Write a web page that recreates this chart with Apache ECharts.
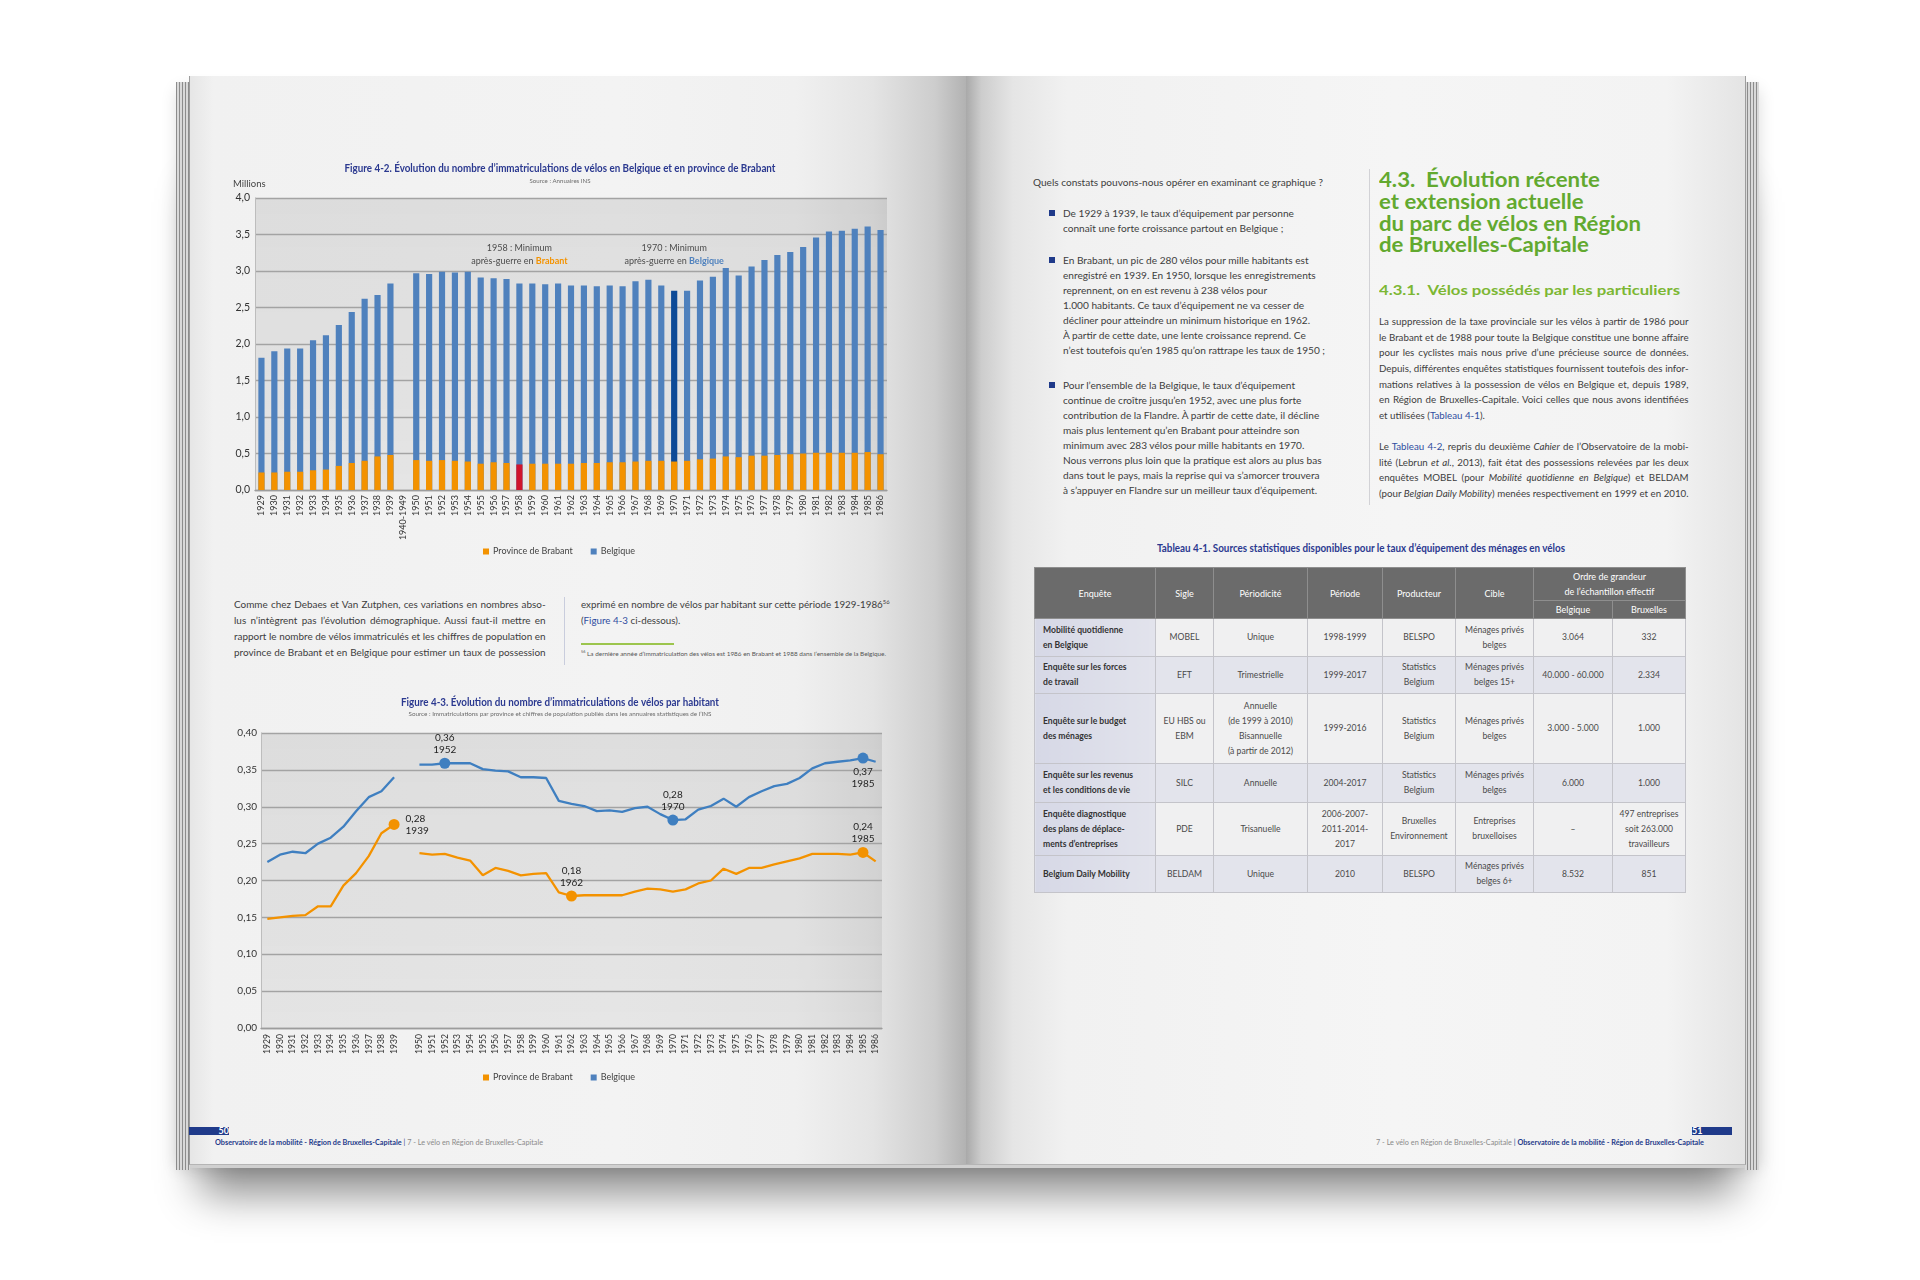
<!DOCTYPE html>
<html lang="fr">
<head>
<meta charset="utf-8">
<title>Évolution du parc de vélos</title>
<script src="https://cdn.jsdelivr.net/npm/echarts@6/dist/echarts.min.js"></script>
<style>
html,body{margin:0;padding:0;}
body{width:1920px;height:1280px;background:#ffffff;position:relative;overflow:hidden;font-family:Lato,"Open Sans",sans-serif;}
#page{position:absolute;left:0;top:0;width:1920px;height:1280px;}
.ln{position:absolute;white-space:nowrap;}
.ln sup{font-size:0.6em;line-height:0;vertical-align:super;}
.blue{color:#2f4da0;}
#chart{position:absolute;left:0;top:0;width:1920px;height:1280px;}
table.t{position:absolute;left:1034px;top:567px;width:651px;border-collapse:collapse;table-layout:fixed;font-family:Lato,"Open Sans",sans-serif;font-size:8.6px;color:#4a4a4a;}
table.t td, table.t th{padding:0;text-align:center;vertical-align:middle;line-height:15px;border:1px solid #c4c4ca;}
table.t th{background:#6b6b6b;color:#ffffff;font-weight:400;font-size:9px;border-color:#8e8e8e;}
table.t td.c1{text-align:left;padding-left:8px;font-weight:700;color:#333;background:linear-gradient(to right,#d6d8e6,#e3e4ed);}
table.t tr.odd td{background:#f0f0f1;}
table.t tr.even td{background:#e3e4ec;}
table.t tr.odd td.c1, table.t tr.even td.c1{background:linear-gradient(to right,#d6d8e6,#e2e3ec);}
</style>
</head>
<body>
<div id="page"></div>
<div id="chart"></div>
<script>
// ---------------- DATA ----------------
const years1 = ['1929','1930','1931','1932','1933','1934','1935','1936','1937','1938','1939','1940-1949',
  '1950','1951','1952','1953','1954','1955','1956','1957','1958','1959','1960','1961','1962','1963','1964','1965','1966','1967','1968','1969',
  '1970','1971','1972','1973','1974','1975','1976','1977','1978','1979','1980','1981','1982','1983','1984','1985','1986'];
const belgiqueMillions = [1.81,1.90,1.94,1.94,2.05,2.12,2.26,2.44,2.62,2.67,2.83,null,
  2.97,2.96,2.99,2.98,2.99,2.91,2.90,2.89,2.83,2.83,2.82,2.83,2.80,2.80,2.79,2.80,2.79,2.86,2.88,2.80,
  2.73,2.73,2.87,2.92,3.04,2.94,3.06,3.15,3.22,3.26,3.33,3.46,3.54,3.55,3.58,3.61,3.56];
const brabantMillions = [0.24,0.24,0.25,0.25,0.27,0.28,0.33,0.37,0.40,0.46,0.48,null,
  0.41,0.40,0.41,0.40,0.39,0.36,0.38,0.37,0.35,0.36,0.36,0.36,0.36,0.37,0.37,0.38,0.38,0.39,0.40,0.40,
  0.39,0.40,0.42,0.43,0.46,0.45,0.47,0.47,0.48,0.49,0.50,0.51,0.51,0.51,0.51,0.52,0.49];
const brabantMinYear = '1958';
const belgiqueMinYear = '1970';
const yTicks1 = [0, 4, 0.5];   // min, max, interval

const years2 = ['1929','1930','1931','1932','1933','1934','1935','1936','1937','1938','1939','',
  '1950','1951','1952','1953','1954','1955','1956','1957','1958','1959','1960','1961','1962','1963','1964','1965','1966','1967','1968','1969',
  '1970','1971','1972','1973','1974','1975','1976','1977','1978','1979','1980','1981','1982','1983','1984','1985','1986'];
const belgiqueParHabitant = [0.225,0.235,0.239,0.237,0.250,0.258,0.273,0.294,0.313,0.321,0.340,null,
  0.357,0.357,0.359,0.359,0.359,0.351,0.349,0.348,0.340,0.340,0.339,0.308,0.304,0.301,0.294,0.295,0.293,0.298,0.300,0.290,
  0.282,0.283,0.296,0.301,0.311,0.300,0.313,0.321,0.328,0.331,0.339,0.352,0.359,0.361,0.363,0.366,0.361];
const brabantParHabitant = [0.148,0.150,0.152,0.153,0.165,0.165,0.193,0.210,0.233,0.264,0.276,null,
  0.237,0.235,0.236,0.231,0.227,0.207,0.217,0.213,0.207,0.209,0.210,0.184,0.179,0.180,0.180,0.180,0.180,0.185,0.189,0.188,
  0.185,0.188,0.196,0.200,0.216,0.209,0.217,0.217,0.222,0.226,0.230,0.236,0.236,0.236,0.235,0.238,0.226];
const belgiqueMarked = ['1952','1970','1985'];
const brabantMarked = ['1939','1962','1985'];
const yTicks2 = [0, 0.4, 0.05];

const seriesNames = ['Province de Brabant','Belgique'];

const tableHead = ['Enquête','Sigle','Périodicité','Période','Producteur','Cible','Ordre de grandeur<br>de l’échantillon effectif','Belgique','Bruxelles'];
const tableRows = [
  ['Mobilité quotidienne<br>en Belgique','MOBEL','Unique','1998-1999','BELSPO','Ménages privés<br>belges','3.064','332'],
  ['Enquête sur les forces<br>de travail','EFT','Trimestrielle','1999-2017','Statistics<br>Belgium','Ménages privés<br>belges 15+','40.000 - 60.000','2.334'],
  ['Enquête sur le budget<br>des ménages','EU HBS ou<br>EBM','Annuelle<br>(de 1999 à 2010)<br>Bisannuelle<br>(à partir de 2012)','1999-2016','Statistics<br>Belgium','Ménages privés<br>belges','3.000 - 5.000','1.000'],
  ['Enquête sur les revenus<br>et les conditions de vie','SILC','Annuelle','2004-2017','Statistics<br>Belgium','Ménages privés<br>belges','6.000','1.000'],
  ['Enquête diagnostique<br>des plans de déplace-<br>ments d’entreprises','PDE','Trisanuelle','2006-2007-<br>2011-2014-<br>2017','Bruxelles<br>Environnement','Entreprises<br>bruxelloises','–','497 entreprises<br>soit 263.000<br>travailleurs'],
  ['Belgium Daily Mobility','BELDAM','Unique','2010','BELSPO','Ménages privés<br>belges 6+','8.532','851']
];

// ---------------- PAGE (book) ----------------
const page = document.getElementById('page');
function box(css, html){ const d=document.createElement('div'); d.style.cssText='position:absolute;'+css; if(html) d.innerHTML=html; page.appendChild(d); return d; }

// shadow + page stacks
box('left:190px;top:140px;width:1556px;height:1026px;box-shadow:0 38px 40px -10px rgba(0,0,0,0.45);background:#cfcfcf;');
box('left:178px;top:90px;width:1580px;height:1078px;box-shadow:0 0 16px rgba(0,0,0,0.16);background:#d0d0d0;');
box('left:176px;top:82px;width:14px;height:1088px;background:repeating-linear-gradient(to right,#8c8c8c 0 1px,#d9d9d9 1px 3px);');
box('left:1745px;top:82px;width:14px;height:1088px;background:repeating-linear-gradient(to right,#d9d9d9 0 2px,#8c8c8c 2px 3px);');
box('left:189px;top:76px;width:777px;height:1089px;border-left:1px solid #9d9d9d;border-bottom:1px solid #b5b5b5;box-sizing:border-box;background:linear-gradient(to right,#e6e6e6 0%,#f1f1f1 3%,#f3f3f3 55%,#f0f0f0 78%,#e4e4e4 88%,#cdcdcd 96%,#b2b2b2 100%);');
box('left:966px;top:76px;width:780px;height:1089px;border-right:1px solid #9d9d9d;border-bottom:1px solid #b5b5b5;box-sizing:border-box;background:linear-gradient(to right,#a9a9a9 0%,#cdcdcd 2%,#e5e5e5 6%,#f1f1f1 13%,#f5f5f5 55%,#f3f3f3 90%,#e4e4e4 100%);');

// text blocks helper: lines are fitted to the widths read from the page
function block(cfg){
  const els = cfg.lines.map((ln,i)=>{
    const y = cfg.ys ? cfg.ys[i] : cfg.y + i*cfg.lh;
    const d = document.createElement('div');
    d.className = 'ln';
    d.style.left = cfg.x+'px';
    d.style.top = (y - cfg.lh/2)+'px';
    d.style.height = cfg.lh+'px';
    d.style.lineHeight = cfg.lh+'px';
    d.style.fontSize = cfg.size+'px';
    d.style.fontWeight = cfg.weight || 400;
    d.style.color = cfg.color || '#3d3d3d';
    d.style.fontFamily = cfg.family || 'Lato, "Open Sans", sans-serif';
    d.innerHTML = (typeof ln === 'string') ? ln : ln.h;
    page.appendChild(d);
    return d;
  });
  let s = cfg.scale;
  if(!s){
    const rs = [];
    cfg.lines.forEach((ln,i)=>{ if(ln.w) rs.push(ln.w / els[i].getBoundingClientRect().width); });
    s = rs.length ? Math.min.apply(null, rs) : 1;
  }
  els.forEach((d,i)=>{
    const ln = cfg.lines[i];
    d.style.transformOrigin = '0 50%';
    d.style.transform = 'scaleX('+s+')';
    if(ln.j){
      d.style.whiteSpace = 'normal';
      d.style.width = (ln.w/s + 0.6)+'px';
      d.style.textAlign = 'justify';
      d.style.textAlignLast = 'justify';
    }
  });
  return s;
}

// left page: paragraph between the two figures
block({x:234, y:604, lh:16, size:10, color:'#3d3d3d', lines:[
  {h:'Comme chez Debaes et Van Zutphen, ces variations en nombres abso-', w:311, j:true},
  {h:'lus n’intègrent pas l’évolution démographique. Aussi faut-il mettre en', w:311, j:true},
  {h:'rapport le nombre de vélos immatriculés et les chiffres de population en', w:311, j:true},
  {h:'province de Brabant et en Belgique pour estimer un taux de possession', w:311, j:true}
]});
box('left:564px;top:597px;width:1px;height:68px;background:#c9cddd;');
block({x:581, y:604, lh:16, size:10, color:'#3d3d3d', lines:[
  {h:'exprimé en nombre de vélos par habitant sur cette période 1929-1986<sup>56</sup>', w:308, j:true},
  {h:'(<span class="blue">Figure 4-3</span> ci-dessous).'}
]});
box('left:581px;top:643px;width:93px;height:1.5px;background:#9cc54d;');
block({x:581, y:654, lh:8, size:6, color:'#555', lines:[
  {h:'<sup>56</sup> La dernière année d’immatriculation des vélos est 1986 en Brabant et 1988 dans l’ensemble de la Belgique.', w:305}
]});

// right page, column 1
block({x:1033, y:182, lh:15, size:10, color:'#3d3d3d', lines:[
  {h:'Quels constats pouvons-nous opérer en examinant ce graphique ?', w:290}
]});
const bulletLines = [
  'De 1929 à 1939, le taux d’équipement par personne',
  'connaît une forte croissance partout en Belgique ;',
  'En Brabant, un pic de 280 vélos pour mille habitants est',
  'enregistré en 1939. En 1950, lorsque les enregistrements',
  'reprennent, on en est revenu à 238 vélos pour',
  '1.000 habitants. Ce taux d’équipement ne va cesser de',
  'décliner pour atteindre un minimum historique en 1962.',
  'À partir de cette date, une lente croissance reprend. Ce',
  {h:'n’est toutefois qu’en 1985 qu’on rattrape les taux de 1950 ;', w:262},
  'Pour l’ensemble de la Belgique, le taux d’équipement',
  'continue de croître jusqu’en 1952, avec une plus forte',
  'contribution de la Flandre. À partir de cette date, il décline',
  'mais plus lentement qu’en Brabant pour atteindre son',
  'minimum avec 283 vélos pour mille habitants en 1970.',
  'Nous verrons plus loin que la pratique est alors au plus bas',
  'dans tout le pays, mais la reprise qui va s’amorcer trouvera',
  'à s’appuyer en Flandre sur un meilleur taux d’équipement.'
];
block({x:1063, lh:15, size:10, color:'#3d3d3d', lines:bulletLines,
  ys:[213,228,260,275,290,305,320,335,350,385,400,415,430,445,460,475,490]});
[213,260,385].forEach(y=>box('left:1049px;top:'+(y-3)+'px;width:6px;height:6px;background:#1f3a8a;'));
box('left:1369px;top:169px;width:1px;height:336px;background:#d2d2d6;');

// right page, column 2
block({x:1379, y:180, lh:21.7, size:20, weight:700, color:'#62a92f', lines:[
  '4.3.&nbsp; Évolution récente', 'et extension actuelle', {h:'du parc de vélos en Région', w:262}, 'de Bruxelles-Capitale'
]});
block({x:1379, y:290, lh:18, size:14, weight:700, color:'#7cb733', lines:[
  {h:'4.3.1.&nbsp; Vélos possédés par les particuliers', w:301}
]});
block({x:1379, y:322, lh:15.6, size:10, color:'#3d3d3d', lines:[
  {h:'La suppression de la taxe provinciale sur les vélos à partir de 1986 pour', w:309, j:true},
  {h:'le Brabant et de 1988 pour toute la Belgique constitue une bonne affaire', w:309, j:true},
  {h:'pour les cyclistes mais nous prive d’une précieuse source de données.', w:309, j:true},
  {h:'Depuis, différentes enquêtes statistiques fournissent toutefois des infor-', w:309, j:true},
  {h:'mations relatives à la possession de vélos en Belgique et, depuis 1989,', w:309, j:true},
  {h:'en Région de Bruxelles-Capitale. Voici celles que nous avons identifiées', w:309, j:true},
  {h:'et utilisées (<span class="blue">Tableau 4-1</span>).'}
]});
block({x:1379, y:447, lh:15.4, size:10, color:'#3d3d3d', lines:[
  {h:'Le <span class="blue">Tableau 4-2</span>, repris du deuxième <i>Cahier</i> de l’Observatoire de la mobi-', w:309, j:true},
  {h:'lité (Lebrun <i>et al.</i>, 2013), fait état des possessions relevées par les deux', w:309, j:true},
  {h:'enquêtes MOBEL (pour <i>Mobilité quotidienne en Belgique</i>) et BELDAM', w:309, j:true},
  {h:'(pour <i>Belgian Daily Mobility</i>) menées respectivement en 1999 et en 2010.', w:309, j:true}
]});

// table
block({x:1157, y:548, lh:12, size:10.5, weight:700, color:'#2b3990', lines:[
  {h:'Tableau 4-1. Sources statistiques disponibles pour le taux d’équipement des ménages en vélos', w:408}
]});
(function(){
  const colW = [121,58,94,75,73,78,79,73];
  const rowH = [38,37,70,39,53,37];
  let h = '<colgroup>'+colW.map(w=>'<col style="width:'+w+'px">').join('')+'</colgroup>';
  h += '<tr style="height:33px">';
  for(let i=0;i<6;i++) h += '<th rowspan="2">'+tableHead[i]+'</th>';
  h += '<th colspan="2">'+tableHead[6]+'</th></tr>';
  h += '<tr style="height:18px"><th>'+tableHead[7]+'</th><th>'+tableHead[8]+'</th></tr>';
  tableRows.forEach((r,ri)=>{
    h += '<tr class="'+(ri%2?'even':'odd')+'" style="height:'+rowH[ri]+'px">';
    r.forEach((c,ci)=>{ h += '<td'+(ci===0?' class="c1"':'')+'>'+c+'</td>'; });
    h += '</tr>';
  });
  const t = document.createElement('table'); t.className='t'; t.innerHTML = h; page.appendChild(t);
})();

// footers
box('left:189px;top:1127px;width:40px;height:8px;background:#1f3a8a;color:#fff;font:700 9px/8px Lato,sans-serif;text-align:right;', '50');
block({x:215, y:1142, lh:9, size:7, color:'#8a8a8a', lines:[
  {h:'<b style="color:#1f3a8a">Observatoire de la mobilité - Région de Bruxelles-Capitale</b> <span style="color:#1f3a8a">|</span> 7 - Le vélo en Région de Bruxelles-Capitale', w:328}
]});
box('left:1692px;top:1127px;width:40px;height:8px;background:#1f3a8a;color:#fff;font:700 9px/8px Lato,sans-serif;text-align:left;', '51');
block({x:1376, y:1142, lh:9, size:7, color:'#8a8a8a', lines:[
  {h:'7 - Le vélo en Région de Bruxelles-Capitale <span style="color:#1f3a8a">|</span> <b style="color:#1f3a8a">Observatoire de la mobilité - Région de Bruxelles-Capitale</b>', w:328}
]});

// ---------------- CHARTS ----------------
const FONT = 'Lato, "Open Sans", sans-serif';
const ORANGE = '#f39200', BLUE = '#4f81bd', LBLUE = '#3f7fc0';
const fmt1 = v => v.toFixed(1).replace('.', ',');
const fmt2 = v => v.toFixed(2).replace('.', ',');
const ctx = document.createElement('canvas').getContext('2d');
function fit(text, font, target){ ctx.font = font; return target / ctx.measureText(text).width; }

const title1 = 'Figure 4-2. Évolution du nombre d’immatriculations de vélos en Belgique et en province de Brabant';
const source1 = 'Source : Annuaires INS';
const title2 = 'Figure 4-3. Évolution du nombre d’immatriculations de vélos par habitant';
const source2 = 'Source : Immatriculations par province et chiffres de population publiés dans les annuaires statistiques de l’INS';
const tFont = 'bold 10.5px Lato';
const sFont = '6px Lato';

function gtext(x, y, text, font, fill, align, target){
  return {type:'text', x:x, y:y, scaleX: target ? fit(text, font, target) : 1, z:10,
    style:{text:text, font:font, fill:fill, align:align, textAlign:align, verticalAlign:'middle', textVerticalAlign:'middle'}};
}

const plotBg = {type:'linear', x:0, y:0, x2:0, y2:1, colorStops:[{offset:0,color:'rgba(0,0,0,0.085)'},{offset:1,color:'rgba(0,0,0,0.05)'}]};

const belgiqueBars = years1.map((y,i)=> y===belgiqueMinYear ? {value:belgiqueMillions[i], itemStyle:{color:'#0d4a97'}} : belgiqueMillions[i]);
const brabantBars = years1.map((y,i)=> y===brabantMinYear ? {value:brabantMillions[i], itemStyle:{color:'#d0142c'}} : brabantMillions[i]);

const labelPos = {b1952:'top', b1970:'top', b1985:'bottom', p1939:'right', p1962:'top', p1985:'top'};
function markedLine(values, marked, key, color){
  return values.map((v,i)=>{
    const y = years2[i];
    if(marked.indexOf(y) < 0) return v;
    const pos = labelPos[key+y];
    return {value:v, symbol:'circle', symbolSize:11, itemStyle:{color:color},
      label:{show:true, position:pos, distance: pos==='right' ? 6 : 2, color:'#1e1e1e', fontSize:10, lineHeight:12, fontFamily:FONT,
        align: pos==='right' ? 'left' : 'center',
        formatter: p => fmt2(p.value) + '\n' + p.name}};
  });
}

const axisLabelY = {color:'#333', fontFamily:FONT};
const legendBase = {data:seriesNames, icon:'rect', itemWidth:6, itemHeight:6, itemGap:18, left:478,
  textStyle:{fontSize:9, color:'#444', fontFamily:FONT, padding:[0,0,0,-1]}};

const option = {
  animation:false,
  textStyle:{fontFamily:FONT},
  grid:[
    {left:255, top:198, width:632, height:292, show:true, backgroundColor:plotBg, borderWidth:0},
    {left:261, top:733, width:621, height:295, show:true, backgroundColor:plotBg, borderWidth:0}
  ],
  legend:[Object.assign({top:542}, legendBase), Object.assign({top:1068}, legendBase)],
  xAxis:[
    {type:'category', gridIndex:0, data:years1, axisTick:{show:false},
     axisLine:{lineStyle:{color:'#9c9c9c', width:1.3}},
     axisLabel:{rotate:90, interval:0, fontSize:9, color:'#333', margin:5, fontFamily:FONT}},
    {type:'category', gridIndex:1, data:years2, axisTick:{show:false},
     axisLine:{lineStyle:{color:'#9c9c9c', width:1.3}},
     axisLabel:{rotate:90, interval:0, fontSize:8.6, color:'#333', margin:6, fontFamily:FONT}}
  ],
  yAxis:[
    {type:'value', gridIndex:0, min:yTicks1[0], max:yTicks1[1], interval:yTicks1[2],
     axisLine:{show:true, lineStyle:{color:'#bdbdbd', width:1}}, axisTick:{show:false},
     axisLabel:Object.assign({formatter:fmt1, fontSize:10.5, margin:5}, axisLabelY),
     splitLine:{lineStyle:{color:'#a3a3a3', width:1.3}}},
    {type:'value', gridIndex:1, min:yTicks2[0], max:yTicks2[1], interval:yTicks2[2],
     axisLine:{show:true, lineStyle:{color:'#bdbdbd', width:1}}, axisTick:{show:false},
     axisLabel:Object.assign({formatter:fmt2, fontSize:10, margin:4}, axisLabelY),
     splitLine:{lineStyle:{color:'#a3a3a3', width:1.3}}}
  ],
  series:[
    {name:'Belgique', type:'bar', xAxisIndex:0, yAxisIndex:0, data:belgiqueBars, barWidth:'48%', barGap:'-100%',
     itemStyle:{color:BLUE},
     markPoint:{symbol:'rect', symbolSize:1, itemStyle:{color:'rgba(0,0,0,0)'}, silent:true,
       label:{show:true, position:'inside', color:'#4a4a4a', fontSize:9, fontFamily:FONT,
         rich:{t:{fontSize:9, color:'#4a4a4a', lineHeight:13, fontFamily:FONT},
               o:{fontSize:9, color:ORANGE, fontWeight:'bold', lineHeight:13, fontFamily:FONT},
               b:{fontSize:9, color:BLUE, fontWeight:'bold', lineHeight:13, fontFamily:FONT}}},
       data:[
         {coord:[brabantMinYear, 3.23], label:{formatter:'{t|' + brabantMinYear + ' : Minimum}\n{t|après-guerre en }{o|Brabant}'}},
         {coord:[belgiqueMinYear, 3.23], label:{formatter:'{t|' + belgiqueMinYear + ' : Minimum}\n{t|après-guerre en }{b|Belgique}'}}
       ]}},
    {name:'Province de Brabant', type:'bar', xAxisIndex:0, yAxisIndex:0, data:brabantBars, barWidth:'48%', barGap:'-100%',
     itemStyle:{color:ORANGE}},
    {name:'Belgique', type:'line', xAxisIndex:1, yAxisIndex:1, data:markedLine(belgiqueParHabitant, belgiqueMarked, 'b', LBLUE),
     symbol:'none', showSymbol:true, connectNulls:false, lineStyle:{color:LBLUE, width:2.3}, itemStyle:{color:LBLUE}},
    {name:'Province de Brabant', type:'line', xAxisIndex:1, yAxisIndex:1, data:markedLine(brabantParHabitant, brabantMarked, 'p', ORANGE),
     symbol:'none', showSymbol:true, connectNulls:false, lineStyle:{color:ORANGE, width:2.3}, itemStyle:{color:ORANGE}}
  ],
  graphic:[
    gtext(560, 169, title1, tFont, '#2b3990', 'center', 431),
    gtext(560, 181, source1, sFont, '#6a6a6a', 'center', 61),
    gtext(233, 184, 'Millions', '9.5px Lato', '#444', 'left', 0),
    gtext(560, 703, title2, tFont, '#2b3990', 'center', 318),
    gtext(560, 714, source2, sFont, '#6a6a6a', 'center', 303)
  ]
};
const chart = echarts.init(document.getElementById('chart'), null, {renderer:'canvas'});
chart.setOption(option);
</script>
</body>
</html>
